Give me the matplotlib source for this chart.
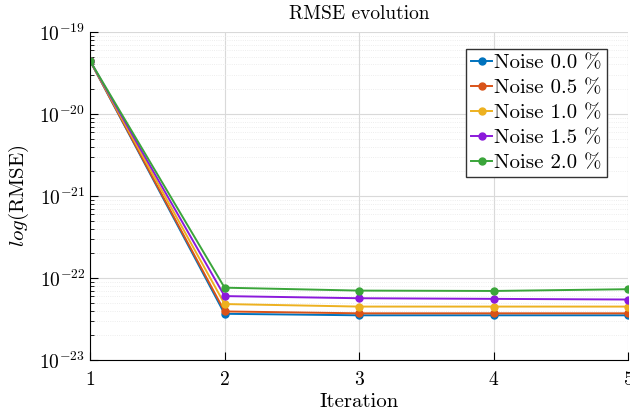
import numpy as np
import matplotlib
matplotlib.use('Agg')
import matplotlib.pyplot as plt
from matplotlib.ticker import LogLocator, NullFormatter

plt.rcParams['font.family'] = ['cmr10', 'DejaVu Serif']
plt.rcParams['mathtext.fontset'] = 'cm'
plt.rcParams['axes.formatter.use_mathtext'] = True

iterations = [1, 2, 3, 4, 5]
labels = ['Noise 0.0 %', 'Noise 0.5 %', 'Noise 1.0 %', 'Noise 1.5 %', 'Noise 2.0 %']
rmse_00 = [4.43e-20, 3.65e-23, 3.50e-23, 3.50e-23, 3.50e-23]
rmse_05 = [4.43e-20, 3.90e-23, 3.70e-23, 3.70e-23, 3.70e-23]
rmse_10 = [4.43e-20, 4.80e-23, 4.47e-23, 4.47e-23, 4.47e-23]
rmse_15 = [4.43e-20, 6.00e-23, 5.65e-23, 5.55e-23, 5.45e-23]
rmse_20 = [4.43e-20, 7.60e-23, 7.00e-23, 6.93e-23, 7.28e-23]
series = [rmse_00, rmse_05, rmse_10, rmse_15, rmse_20]
colors = ['#0072BD', '#D95319', '#EDB120', '#8B1ADB', '#3AA53A']

fig = plt.figure(figsize=(6.3, 4.19), dpi=100)
ax = fig.add_axes([0.143, 0.141, 0.854, 0.783])

for vals, lab, c in zip(series, labels, colors):
    ax.plot(iterations, vals, '-o', color=c, label=lab, lw=1.4, ms=5)

ax.set_yscale('log')
ax.set_ylim(1e-23, 1e-19)
ax.set_xlim(1, 5)
ax.set_xticks(iterations)
ax.yaxis.set_major_locator(LogLocator(base=10, numticks=10))
ax.yaxis.set_minor_locator(LogLocator(base=10, subs=np.arange(2, 10), numticks=50))
ax.yaxis.set_minor_formatter(NullFormatter())

ax.grid(True, which='major', color='#d9d9d9', lw=0.8)
ax.grid(True, which='minor', color='#e8e8e8', lw=0.6, ls=':')
ax.set_axisbelow(True)

for s in ['top', 'right']:
    ax.spines[s].set_visible(False)
ax.tick_params(which='both', direction='in', labelsize=14)
ax.tick_params(which='major', length=6)
ax.tick_params(which='minor', length=3)
ax.tick_params(axis='x', pad=8)

ax.set_title('RMSE evolution', fontsize=14, pad=9)
ax.set_xlabel('Iteration', fontsize=15, labelpad=3)
ax.set_ylabel('$log$(RMSE)', fontsize=15, labelpad=6)

leg = ax.legend(loc='upper right', bbox_to_anchor=(0.961, 0.948), fontsize=15,
                fancybox=False, framealpha=1, edgecolor='#333333',
                handlelength=1.0, handletextpad=0.1, borderpad=0.25,
                labelspacing=0.3, borderaxespad=0)
leg.get_frame().set_linewidth(1.0)

fig.savefig('out.png', dpi=100)
